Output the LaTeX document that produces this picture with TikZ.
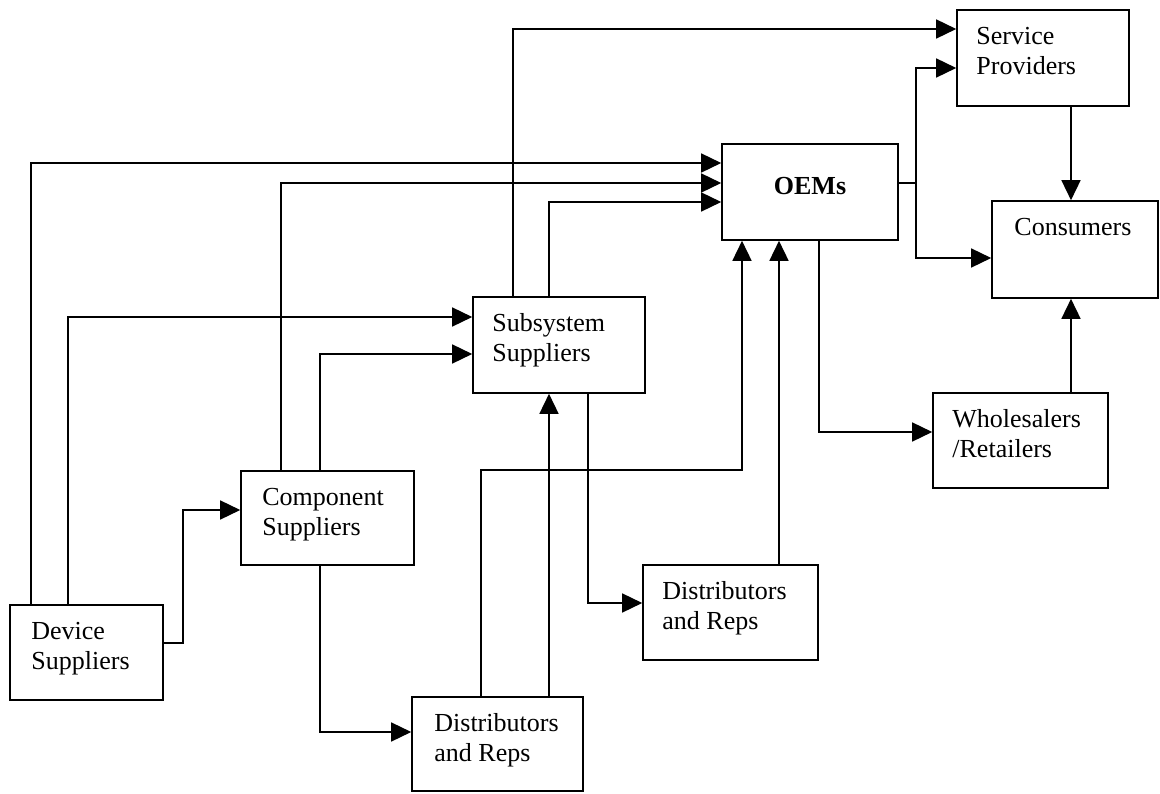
\documentclass[tikz,border=0pt]{standalone}
\usepackage{fontspec}
\setmainfont{Liberation Serif}
\usetikzlibrary{arrows.meta,calc}
\tikzset{
  box/.style={draw, line width=1.6pt, inner sep=0pt, rectangle},
  txt/.style={anchor=north west, inner sep=0pt, align=left, font=\fontsize{26}{30}\selectfont},
  arr/.style={line width=1.5pt, -{Triangle[length=20pt,width=19pt]}}
}
\begin{document}
\begin{tikzpicture}[x=1pt, y=-1pt]
\useasboundingbox (0,0) rectangle (1160,794);
% boxes
\node[box, minimum width=172pt, minimum height=96pt] (sp)   at (1043,58)    {};
\node[box, minimum width=176pt, minimum height=96pt] (oem)  at (810,192)    {};
\node[box, minimum width=166pt, minimum height=97pt] (con)  at (1075,249.5) {};
\node[box, minimum width=172pt, minimum height=96pt] (sub)  at (559,345)    {};
\node[box, minimum width=175pt, minimum height=95pt] (who)  at (1020.5,440.5) {};
\node[box, minimum width=173pt, minimum height=94pt] (comp) at (327.5,518)  {};
\node[box, minimum width=153pt, minimum height=95pt] (dev)  at (86.5,652.5) {};
\node[box, minimum width=175pt, minimum height=95pt] (dm)   at (730.5,612.5) {};
\node[box, minimum width=171pt, minimum height=94pt] (db)   at (497.5,744)  {};
% texts
\node[txt] (spT)   at ($(sp.north west)+(20,14)$)   {\strut Service\\Providers};
\node[anchor=base, inner sep=0pt, font=\fontsize{26}{30}\selectfont\bfseries] (oemT) at ($(oem.center)+(0,3)$) {OEMs};
\node[txt] (conT)  at ($(con.north west)+(23,14)$)  {\strut Consumers};
\node[txt] (subT)  at ($(sub.north west)+(20,14)$)  {\strut Subsystem\\Suppliers};
\node[txt] (whoT)  at ($(who.north west)+(20,14)$)  {\strut Wholesalers\\/Retailers};
\node[txt] (compT) at ($(comp.north west)+(22,14)$) {\strut Component\\Suppliers};
\node[txt] (devT)  at ($(dev.north west)+(22,14)$)  {\strut Device\\Suppliers};
\node[txt] (dmT)   at ($(dm.north west)+(20,14)$)   {\strut Distributors\\and Reps};
\node[txt] (dbT)   at ($(db.north west)+(23,14)$)   {\strut Distributors\\and Reps};
% connectors
\draw[arr] (dev.north -| 31,0) |- (oem.west |- 0,163);
\draw[arr] (dev.north -| 68,0) |- (sub.west |- 0,317);
\draw[arr] (dev.east |- 0,643) -- (183,643) -- (183,510) -- (comp.west |- 0,510);
\draw[arr] (comp.north -| 281,0) |- (oem.west |- 0,183);
\draw[arr] (comp.north -| 320,0) |- (sub.west |- 0,354);
\draw[arr] (comp.south -| 320,0) |- (db.west |- 0,732);
\draw[arr] (sub.north -| 513,0) |- (sp.west |- 0,29);
\draw[arr] (sub.north -| 549,0) |- (oem.west |- 0,202);
\draw[arr] (sub.south -| 588,0) |- (dm.west |- 0,603);
\draw[arr] (db.north -| 549,0) -- (sub.south -| 549,0);
\draw[arr] (db.north -| 481,0) |- (742,470) -- (oem.south -| 742,0);
\draw[arr] (dm.north -| 779,0) -- (oem.south -| 779,0);
\draw[arr] (oem.south -| 819,0) |- (who.west |- 0,432);
\draw[arr] (oem.east |- 0,183) -| (916,120) |- (sp.west |- 0,68);
\draw[arr] (oem.east |- 0,183) -| (916,220) |- (con.west |- 0,258);
\draw[arr] (sp.south -| 1071,0) -- (con.north -| 1071,0);
\draw[arr] (who.north -| 1071,0) -- (con.south -| 1071,0);
\end{tikzpicture}
\end{document}
